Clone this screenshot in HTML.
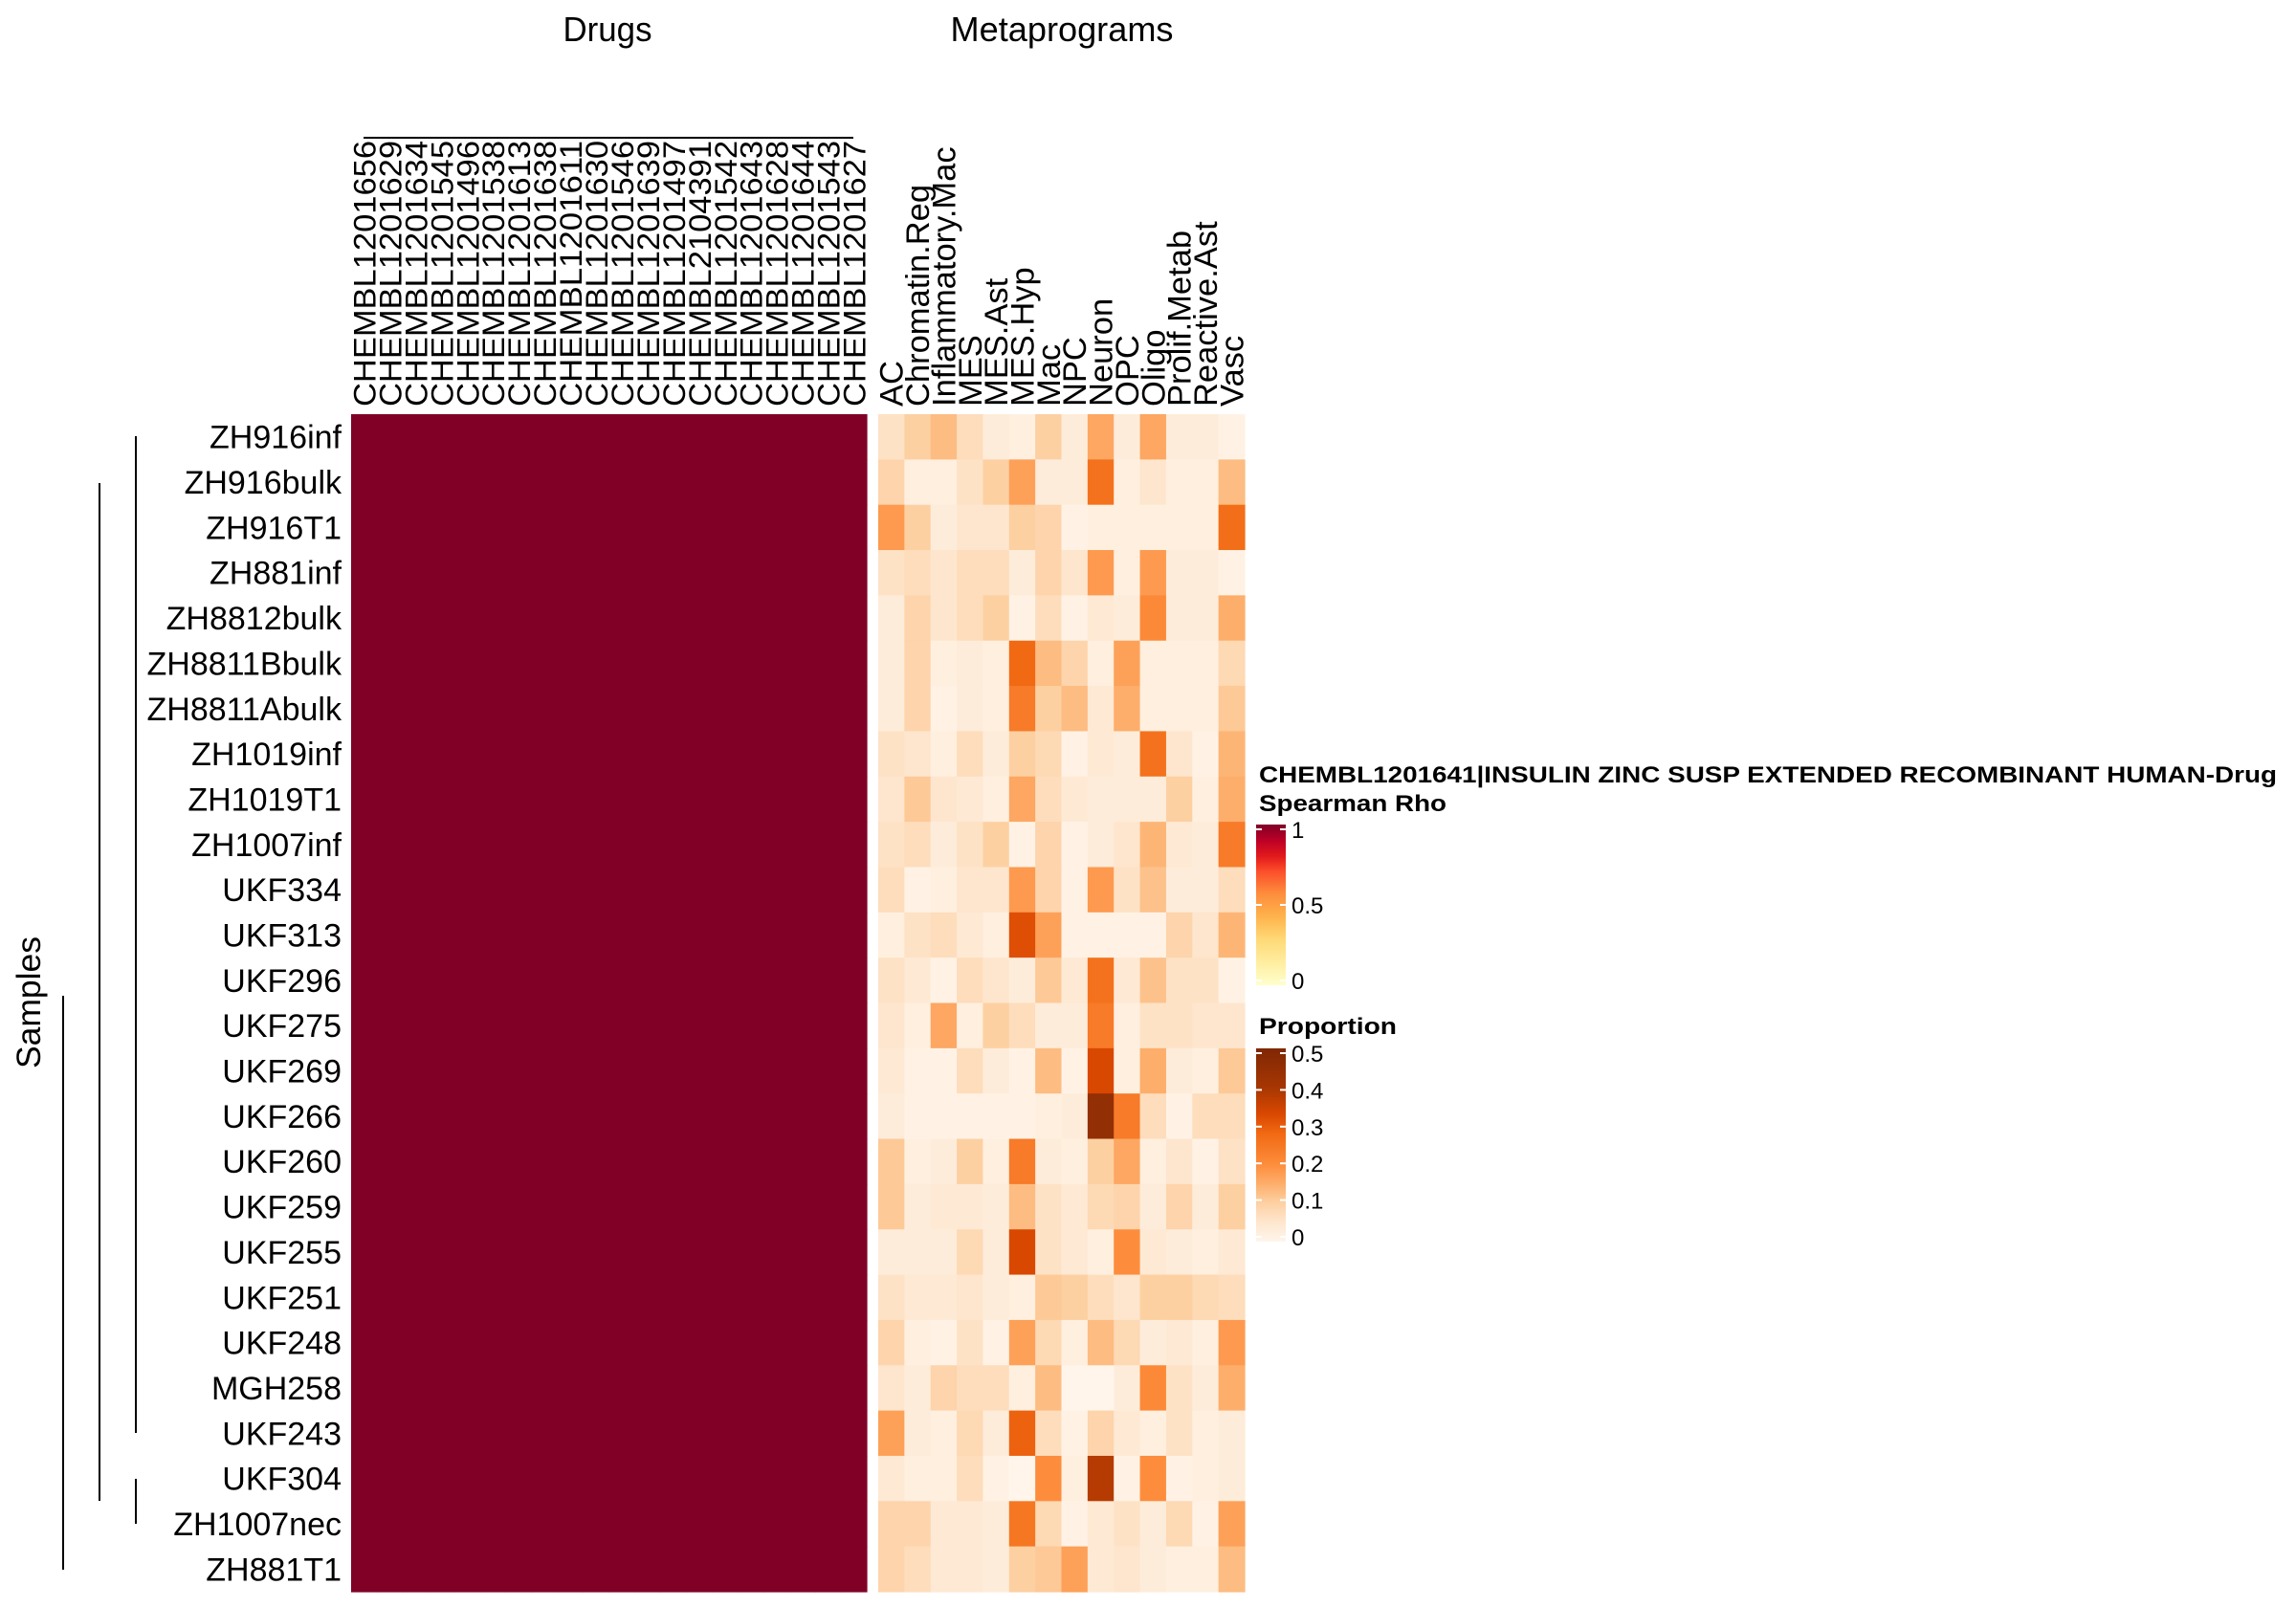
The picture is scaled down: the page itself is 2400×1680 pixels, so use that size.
<!DOCTYPE html>
<html><head><meta charset="utf-8"><style>
html,body{margin:0;padding:0;background:#fff;}
svg{display:block;font-family:"Liberation Sans",Arial,sans-serif;}
</style></head><body>
<svg id="chart" width="2400" height="1680" viewBox="0 0 2400 1680" xmlns="http://www.w3.org/2000/svg">
<g id="root"></g>
</svg>
<script>
const samples = ["ZH916inf","ZH916bulk","ZH916T1","ZH881inf","ZH8812bulk","ZH8811Bbulk","ZH8811Abulk","ZH1019inf","ZH1019T1","ZH1007inf","UKF334","UKF313","UKF296","UKF275","UKF269","UKF266","UKF260","UKF259","UKF255","UKF251","UKF248","MGH258","UKF243","UKF304","ZH1007nec","ZH881T1"];
const drugs = ["CHEMBL1201656","CHEMBL1201629","CHEMBL1201634","CHEMBL1201545","CHEMBL1201496","CHEMBL1201538","CHEMBL1201613","CHEMBL1201638","CHEMBL1201611","CHEMBL1201630","CHEMBL1201546","CHEMBL1201639","CHEMBL1201497","CHEMBL2104391","CHEMBL1201542","CHEMBL1201643","CHEMBL1201628","CHEMBL1201644","CHEMBL1201543","CHEMBL1201627"];
const metaprograms = ["AC","Chromatin.Reg","Inflammatory.Mac","MES","MES.Ast","MES.Hyp","Mac","NPC","Neuron","OPC","Oligo","Prolif.Metab","Reactive.Ast","Vasc"];
const rhoValue = 1;
const proportion = [
[0.06,0.10,0.13,0.07,0.03,0.02,0.10,0.03,0.16,0.03,0.16,0.03,0.03,0.01],
[0.09,0.02,0.02,0.06,0.10,0.17,0.03,0.03,0.26,0.02,0.05,0.02,0.02,0.13],
[0.18,0.10,0.03,0.05,0.05,0.10,0.09,0.01,0.02,0.02,0.02,0.02,0.02,0.27],
[0.06,0.07,0.05,0.07,0.07,0.03,0.09,0.05,0.18,0.02,0.18,0.03,0.03,0.01],
[0.03,0.09,0.05,0.07,0.10,0.01,0.07,0.01,0.04,0.03,0.21,0.03,0.03,0.15],
[0.03,0.09,0.02,0.03,0.02,0.28,0.13,0.09,0.02,0.17,0.02,0.02,0.02,0.08],
[0.03,0.09,0.01,0.03,0.02,0.24,0.10,0.13,0.04,0.15,0.02,0.02,0.02,0.11],
[0.06,0.05,0.02,0.07,0.03,0.10,0.08,0.01,0.04,0.03,0.26,0.05,0.01,0.14],
[0.05,0.11,0.05,0.04,0.02,0.16,0.07,0.04,0.03,0.03,0.03,0.10,0.02,0.15],
[0.06,0.07,0.03,0.06,0.10,0.01,0.09,0.01,0.03,0.05,0.14,0.04,0.03,0.24],
[0.07,0.01,0.02,0.05,0.05,0.18,0.09,0.01,0.18,0.06,0.12,0.03,0.03,0.07],
[0.02,0.06,0.07,0.04,0.02,0.32,0.17,0.01,0.01,0.01,0.01,0.09,0.05,0.14],
[0.06,0.04,0.01,0.07,0.05,0.03,0.11,0.04,0.26,0.04,0.12,0.06,0.06,0.01],
[0.05,0.02,0.16,0.02,0.10,0.07,0.03,0.03,0.24,0.02,0.06,0.06,0.05,0.05],
[0.04,0.01,0.01,0.07,0.03,0.01,0.13,0.01,0.33,0.02,0.15,0.03,0.02,0.11],
[0.03,0.01,0.01,0.01,0.01,0.01,0.02,0.03,0.45,0.24,0.07,0.01,0.07,0.07],
[0.11,0.02,0.03,0.10,0.02,0.24,0.03,0.02,0.10,0.16,0.02,0.05,0.01,0.06],
[0.11,0.03,0.04,0.04,0.03,0.13,0.06,0.04,0.08,0.09,0.03,0.09,0.03,0.10],
[0.03,0.03,0.03,0.08,0.03,0.33,0.06,0.04,0.02,0.20,0.04,0.03,0.02,0.04],
[0.06,0.04,0.04,0.05,0.03,0.02,0.11,0.10,0.07,0.05,0.10,0.10,0.08,0.07],
[0.09,0.02,0.01,0.06,0.01,0.17,0.08,0.02,0.13,0.08,0.03,0.04,0.02,0.18],
[0.05,0.03,0.09,0.07,0.07,0.02,0.13,0.00,0.00,0.03,0.21,0.06,0.03,0.15],
[0.17,0.03,0.02,0.08,0.03,0.29,0.07,0.01,0.09,0.04,0.02,0.06,0.02,0.03],
[0.04,0.02,0.02,0.07,0.01,0.00,0.20,0.02,0.38,0.01,0.20,0.01,0.02,0.03],
[0.09,0.09,0.04,0.04,0.03,0.25,0.08,0.01,0.04,0.06,0.03,0.08,0.01,0.17],
[0.09,0.07,0.04,0.04,0.03,0.10,0.11,0.17,0.04,0.05,0.03,0.02,0.02,0.13]
];
const rhoTicks = [1,0.5,0];
const propTicks = [0.5,0.4,0.3,0.2,0.1,0];

const NS="http://www.w3.org/2000/svg";
const root=document.getElementById('root');
function mk(tag,attrs,parent){const e=document.createElementNS(NS,tag);for(const k in attrs)e.setAttribute(k,attrs[k]);(parent||root).appendChild(e);return e;}

const top0=433, bot0=1664, rowH=(bot0-top0)/samples.length;
const dX0=367, dX1=906, dW=(dX1-dX0)/drugs.length;
const mX0=918, mX1=1301, mW=(mX1-mX0)/metaprograms.length;
const yRow=i=>top0+i*rowH;
const xDrug=j=>dX0+j*dW;
const xMeta=j=>mX0+j*mW;

function lerp(a,b,t){return Math.round(a+(b-a)*t);}
function hex(h){return [parseInt(h.slice(1,3),16),parseInt(h.slice(3,5),16),parseInt(h.slice(5,7),16)];}
function scale(stops,v){
  if(v<=stops[0][0]) return stops[0][1];
  for(let i=1;i<stops.length;i++){if(v<=stops[i][0]){const t=(v-stops[i-1][0])/(stops[i][0]-stops[i-1][0]);const a=hex(stops[i-1][1]),b=hex(stops[i][1]);return `rgb(${lerp(a[0],b[0],t)},${lerp(a[1],b[1],t)},${lerp(a[2],b[2],t)})`;}}
  return stops[stops.length-1][1];
}
const oranges=[[0,"#fff5eb"],[0.05,"#fee6ce"],[0.1,"#fdd0a2"],[0.15,"#fdae6b"],[0.2,"#fd8d3c"],[0.28,"#f16913"],[0.33,"#d94801"],[0.4,"#a63603"],[0.5,"#7f2704"]];
const ylorrd=[[0,"#ffffcc"],[0.143,"#ffeda0"],[0.286,"#fed976"],[0.43,"#feb24c"],[0.57,"#fd8d3c"],[0.71,"#fc4e2a"],[0.8,"#e31a1c"],[0.9,"#bd0026"],[1,"#800026"]];

let t=mk('text',{x:635,y:43,'font-size':36,'text-anchor':'middle',fill:'#000',textLength:93,lengthAdjust:'spacingAndGlyphs'});t.textContent='Drugs';


t=mk('text',{x:1110,y:43,'font-size':36,'text-anchor':'middle',fill:'#000',textLength:233,lengthAdjust:'spacingAndGlyphs'});t.textContent='Metaprograms';


t=mk('text',{x:0,y:0,'font-size':35,'text-anchor':'middle',fill:'#000',transform:'translate(42,1048) rotate(-90)',textLength:138,lengthAdjust:'spacingAndGlyphs'});t.textContent='Samples';



const dend=[[380,144,892,144],[142,456,142,1498],[104,505,104,1569],[66,1041,66,1641],[142,1546,142,1593]];
dend.forEach((d,i)=>{const l=mk('line',{x1:d[0],y1:d[1],x2:d[2],y2:d[3],stroke:'#000','stroke-width':2});

});

const gD=mk('g',{});


samples.forEach((s,i)=>{drugs.forEach((d,j)=>{
  const r=mk('rect',{x:xDrug(j),y:yRow(i),width:dW+0.6,height:rowH+0.6,fill:scale(ylorrd,rhoValue)},gD);
  
  
});});
const gM=mk('g',{});


samples.forEach((s,i)=>{metaprograms.forEach((m,j)=>{
  const r=mk('rect',{x:xMeta(j),y:yRow(i),width:mW+0.6,height:rowH+0.6,fill:scale(oranges,proportion[i][j])},gM);
  
  
});});

samples.forEach((s,i)=>{const e=mk('text',{x:357,y:yRow(i)+rowH/2+12,'font-size':34,'text-anchor':'end',fill:'#000'});e.textContent=s;

});
drugs.forEach((d,j)=>{const cx=xDrug(j)+dW/2+12;const e=mk('text',{x:0,y:0,'font-size':32,fill:'#000',transform:`translate(${cx},425) rotate(-90)`,textLength:278,lengthAdjust:'spacingAndGlyphs'});e.textContent=d;

});
metaprograms.forEach((m,j)=>{const cx=xMeta(j)+mW/2+12;const e=mk('text',{x:0,y:0,'font-size':34.5,fill:'#000',transform:`translate(${cx},425) rotate(-90)`});e.textContent=m;

});

const L=mk('g',{});


t=mk('text',{x:1316,y:818,'font-size':24,'font-weight':'bold',fill:'#000',textLength:1064,lengthAdjust:'spacingAndGlyphs'},L);t.textContent='CHEMBL1201641|INSULIN ZINC SUSP EXTENDED RECOMBINANT HUMAN-Drug';


t=mk('text',{x:1316,y:848,'font-size':24,'font-weight':'bold',fill:'#000',textLength:196,lengthAdjust:'spacingAndGlyphs'},L);t.textContent='Spearman Rho';


const defs=mk('defs',{});
function grad(id,stops,maxv){const g=mk('linearGradient',{id:id,x1:0,y1:1,x2:0,y2:0},defs);stops.forEach(s=>mk('stop',{offset:s[0]/maxv,'stop-color':s[1]},g));}
grad('gRho',ylorrd,1);grad('gProp',oranges,0.5);
const rb=[862,1030];
let b=mk('rect',{x:1313,y:rb[0],width:31,height:rb[1]-rb[0],fill:'url(#gRho)'},L);


rhoTicks.forEach(v=>{const y=rb[1]-(v)*(rb[1]-rb[0])+ (v===1?5:(v===0?-5:0));
  mk('line',{x1:1313,y1:y,x2:1319,y2:y,stroke:'#fff','stroke-width':2},L);mk('line',{x1:1338,y1:y,x2:1344,y2:y,stroke:'#fff','stroke-width':2},L);
  const e=mk('text',{x:1350,y:y+9,'font-size':24,fill:'#000'},L);e.textContent=String(v);
  
  });
t=mk('text',{x:1316,y:1081,'font-size':24,'font-weight':'bold',fill:'#000',textLength:144,lengthAdjust:'spacingAndGlyphs'},L);t.textContent='Proportion';


const pb=[1096,1298];
b=mk('rect',{x:1313,y:pb[0],width:31,height:pb[1]-pb[0],fill:'url(#gProp)'},L);


propTicks.forEach(v=>{const y=(pb[1]-5)-(v/0.5)*(pb[1]-pb[0]-10);
  mk('line',{x1:1313,y1:y,x2:1319,y2:y,stroke:'#fff','stroke-width':2},L);mk('line',{x1:1338,y1:y,x2:1344,y2:y,stroke:'#fff','stroke-width':2},L);
  const e=mk('text',{x:1350,y:y+9,'font-size':24,fill:'#000'},L);e.textContent=String(v);
  
  });
</script>
</body></html>
